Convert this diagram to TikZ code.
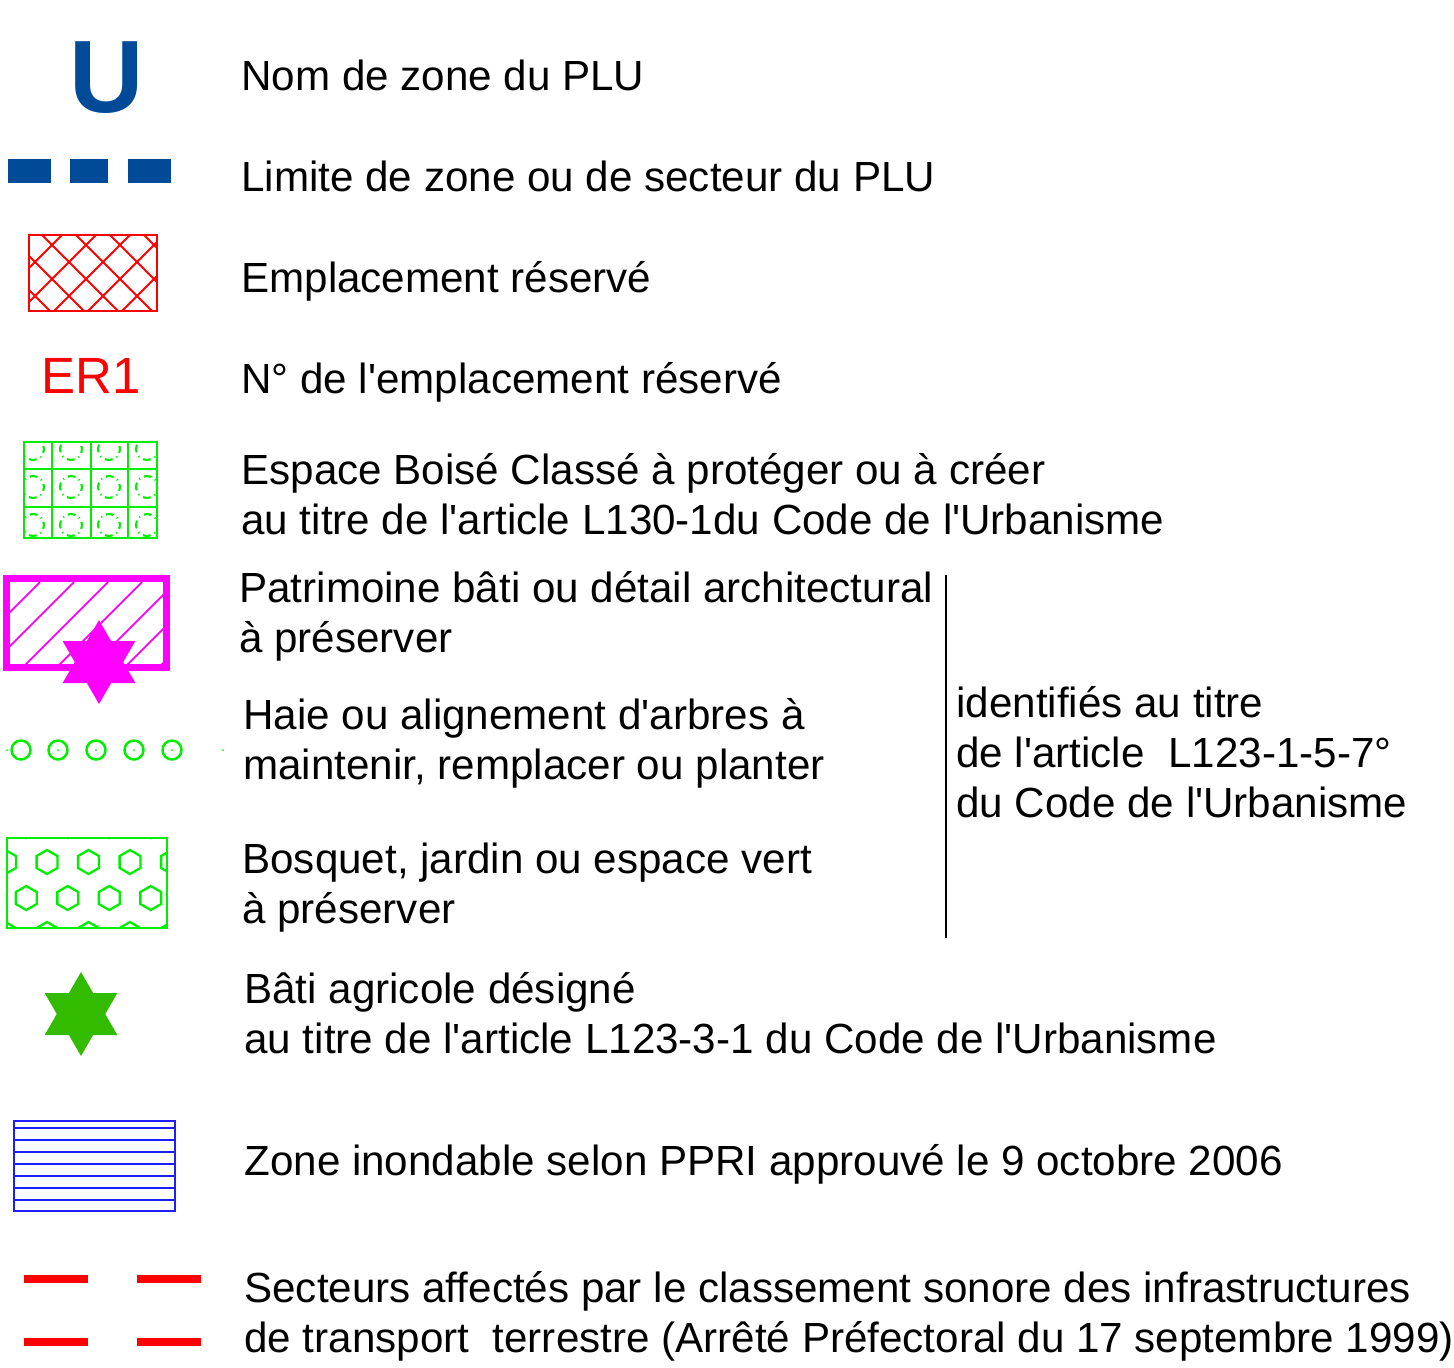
\documentclass[tikz,border=0pt]{standalone}
\usepackage{fontspec}
\setmainfont{Liberation Sans}
\definecolor{plublue}{RGB}{0,74,152}
\definecolor{ebcgreen}{RGB}{0,238,0}
\definecolor{agrigreen}{RGB}{51,187,0}
\definecolor{pprblue}{RGB}{30,30,255}
\definecolor{patmag}{RGB}{255,0,255}
\newcommand{\ap}{\textquotesingle}
\tikzset{
  lab/.style={anchor=base west, inner sep=0pt, align=left, font=\fontsize{24}{28.45}\selectfont},
  hex/.style={ebcgreen, line width=1.3pt}
}
\begin{document}
\begin{tikzpicture}[x=0.02cm,y=-0.02cm]
\useasboundingbox (0,0) rectangle (1454,1367);

% nom de zone
\node[anchor=base, inner sep=0pt, text=plublue, font=\fontsize{58.6}{60}\selectfont\bfseries] (u) at (106.5,112) {U};
\node[lab] (t1) at (241,90) {Nom de zone du PLU};

% limite de zone
\foreach \a/\b in {8/51,70/108,128/171}
  \fill[plublue] (\a,159) rectangle (\b,183);
\node[lab] (t2) at (241,191) {Limite de zone ou de secteur du PLU};

% emplacement reserve
\begin{scope}
\clip (29,235) rectangle (157,311);
\foreach \k in {-3,...,4}
  \path[draw,red,line width=1.1pt] (42+34*\k,235) -- ++(100,100);
\foreach \k in {-1,...,6}
  \path[draw,red,line width=1.1pt] (62+34*\k,235) -- ++(-100,100);
\end{scope}
\path[draw,red,line width=1.1pt] (29,235) rectangle (157,311);
\node[lab] (t3) at (241,292) {Emplacement réservé};

\node[anchor=base west, inner sep=0pt, text=red, font=\fontsize{29}{30}\selectfont] (er) at (41,393) {ER1};
\node[lab] (t4) at (241,393) {N° de l\ap emplacement réservé};

% espace boise classe
\begin{scope}
\clip (24,442) rectangle (157,538);
\foreach \x in {33,71,109,147}
  \foreach \y in {449,487,525}
    \path[draw,ebcgreen,line width=1.2pt,dash pattern=on 4.5pt off 2.4pt on 0.6pt off 2.4pt,dash phase=2.25pt] (\x,\y) circle[radius=11];
\end{scope}
\path[draw,ebcgreen,line width=1.5pt] (24,442) rectangle (157,538);
\foreach \x in {52,91,128}
  \path[draw,ebcgreen,line width=1.5pt] (\x,442) -- (\x,538);
\foreach \y in {469,507}
  \path[draw,ebcgreen,line width=1.5pt] (24,\y) -- (157,\y);
\node[lab] (t5) at (241,534) {Espace Boisé Classé à protéger ou à créer\\au titre de l\ap article L130-1du Code de l\ap Urbanisme};

% patrimoine bati
\begin{scope}
\clip (10,582) rectangle (163,664);
\foreach \k in {-1,...,6}
  \path[draw,patmag,line width=1pt] (40+34*\k,582) -- ++(-100,100);
\end{scope}
\path[draw,patmag,line width=4pt] (6.5,578.5) rectangle (166.5,667.5);
\fill[patmag] (99,662) +(90:42) -- +(210:42) -- +(330:42) -- cycle
              (99,662) +(270:42) -- +(30:42) -- +(150:42) -- cycle;
\node[lab] (t6) at (239,652) {Patrimoine bâti ou détail architectural\\à préserver};

% haie
\foreach \x in {21,58,96,134,172}
  \path[draw,ebcgreen,line width=1.4pt] (\x,750) circle[radius=9.5];
\foreach \x in {7,58,96,134,172,223}
  \fill[ebcgreen] (\x,750) circle[radius=1];
\node[lab] (t7) at (243,779) {Haie ou alignement d\ap arbres à\\maintenir, remplacer ou planter};

% bosquet
\begin{scope}
\clip (7,838) rectangle (167,928);
\foreach \x in {5.5,47,88.5,130,171.5}
  \foreach \y in {862,934}
    \path[draw,hex] (\x,\y) +(30:12) -- +(90:12) -- +(150:12) -- +(210:12) -- +(270:12) -- +(330:12) -- cycle;
\foreach \x in {26.25,67.75,109.25,150.75}
  \foreach \y in {826,898}
    \path[draw,hex] (\x,\y) +(30:12) -- +(90:12) -- +(150:12) -- +(210:12) -- +(270:12) -- +(330:12) -- cycle;
\end{scope}
\path[draw,ebcgreen,line width=1.5pt] (7,838) rectangle (167,928);
\node[lab] (t8) at (242,923) {Bosquet, jardin ou espace vert\\à préserver};

% accolade
\coordinate (b1) at (946,575);
\coordinate (b2) at (946,938);
\path[draw,line width=1.1pt] (b1) -- (b2);
\node[lab] (t9) at (956,817) {identifiés au titre\\de l\ap article\ \ L123-1-5-7°\\du Code de l\ap Urbanisme};

% bati agricole
\fill[agrigreen] (81,1014) +(90:42) -- +(210:42) -- +(330:42) -- cycle
                 (81,1014) +(270:42) -- +(30:42) -- +(150:42) -- cycle;
\node[lab] (t10) at (244,1053) {Bâti agricole désigné\\au titre de l\ap article L123-3-1 du Code de l\ap Urbanisme};

% zone inondable
\path[draw,pprblue,line width=1.3pt] (14,1121) rectangle (175,1211);
\foreach \y in {1128,1140,...,1200}
  \path[draw,pprblue,line width=1.3pt] (14,\y) -- (175,\y);
\node[lab] (t11) at (244,1175) {Zone inondable selon PPRI approuvé le 9 octobre 2006};

% classement sonore
\foreach \y in {1279,1342}
  \foreach \a/\b in {24/88,137/201}
    \path[draw,red,line width=4.5pt] (\a,\y) -- (\b,\y);
\node[lab] (t12) at (244,1352) {Secteurs affectés par le classement sonore des infrastructures\\de transport\ \ terrestre (Arrêté Préfectoral du 17 septembre 1999)};
\end{tikzpicture}
\end{document}
